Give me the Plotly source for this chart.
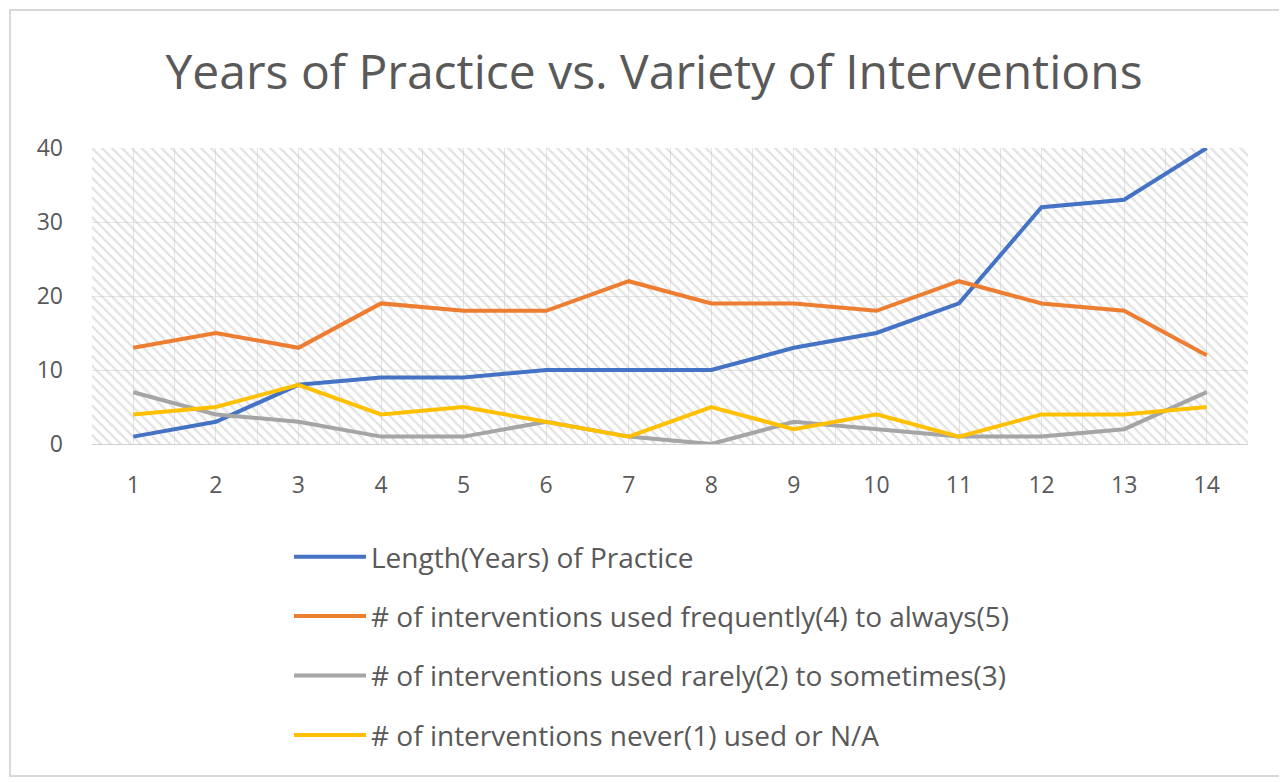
import plotly.graph_objects as go

# ---- data ----
participants = list(range(1, 15))
years_practice = [1, 3, 8, 9, 9, 10, 10, 10, 13, 15, 19, 32, 33, 40]
freq_to_always = [13, 15, 13, 19, 18, 18, 22, 19, 19, 18, 22, 19, 18, 12]
rarely_to_sometimes = [7, 4, 3, 1, 1, 3, 1, 0, 3, 2, 1, 1, 2, 7]
never_or_na = [4, 5, 8, 4, 5, 3, 1, 5, 2, 4, 1, 4, 4, 5]

series_names = [
    "Length(Years) of Practice",
    "# of interventions used frequently(4) to always(5)",
    "# of interventions used rarely(2) to sometimes(3)",
    "# of interventions never(1) used or N/A",
]
series_values = [years_practice, freq_to_always, rarely_to_sometimes, never_or_na]
series_colors = ["#4472C4", "#ED7D31", "#A5A5A5", "#FFC000"]

title_text = "Years of Practice vs. Variety of Interventions"
y_ticks = [0, 10, 20, 30, 40]

# ---- layout constants (page pixels; page body has an 8px margin) ----
OFF = 8
W, H = 1287 - OFF, 783 - OFF
PLOT_L, PLOT_R, PLOT_T, PLOT_B = 92, 1248, 148, 444
L = PLOT_L - OFF
R = W - (PLOT_R - OFF)
T = PLOT_T - OFF
B = H - (PLOT_B - OFF)
x_range = [0.5, 14.5]
y_range = [0, 40]
FONT = "Open Sans"
TEXT = "#595959"

fig = go.Figure()

# hatched plot-area background, spanning the axis ranges
fig.add_trace(go.Scatter(
    x=[x_range[0], x_range[1], x_range[1], x_range[0], x_range[0]],
    y=[y_range[0], y_range[0], y_range[1], y_range[1], y_range[0]],
    mode="lines", line=dict(width=0), fill="toself",
    fillcolor="rgba(0,0,0,0)",
    fillpattern=dict(shape="\\", size=7, solidity=0.32,
                     fgcolor="#c4c4c4", bgcolor="rgba(255,255,255,0)"),
    hoverinfo="skip", showlegend=False,
))

for name, vals, col in zip(series_names, series_values, series_colors):
    fig.add_trace(go.Scatter(
        x=participants, y=vals, name=name, mode="lines",
        line=dict(color=col, width=4), legendgroup=name,
    ))

plot_w = W - L - R
plot_h = H - T - B

def px_x(p):
    return (p - OFF - L) / plot_w

def px_y(p):
    return (H - B - (p - OFF)) / plot_h

fig.update_layout(
    width=W, height=H,
    margin=dict(l=L, r=R, t=T, b=B, autoexpand=False),
    paper_bgcolor="white", plot_bgcolor="white",
    font=dict(family=FONT, color=TEXT),
    title=dict(text=title_text, x=(654 - OFF) / W, xanchor="center",
               y=1 - (72 - OFF) / H, yanchor="middle", yref="container",
               font=dict(size=48, color=TEXT, family=FONT)),
    xaxis=dict(range=x_range, tickmode="array", tickvals=participants,
               showgrid=True, gridcolor="#e3e3e3", gridwidth=1,
               minor=dict(showgrid=True, gridcolor="#e3e3e3", tick0=0.5, dtick=1),
               showline=True, linecolor="#d0d0d0", linewidth=1,
               zeroline=False, ticks="", ticklabelstandoff=20,
               tickfont=dict(size=23, color=TEXT), fixedrange=True),
    yaxis=dict(range=y_range, tickmode="array", tickvals=y_ticks,
               showgrid=True, gridcolor="#e3e3e3", gridwidth=1,
               zeroline=False, showline=False, ticks="", ticklabelstandoff=28,
               tickfont=dict(size=23, color=TEXT), fixedrange=True),
    legend=dict(x=px_x(289), xanchor="left", y=px_y(532), yanchor="top",
                orientation="v", traceorder="grouped", tracegroupgap=20,
                itemwidth=72,
                font=dict(size=28, color=TEXT, family=FONT),
                bgcolor="rgba(0,0,0,0)"),
    shapes=[dict(type="rect", xref="paper", yref="paper",
                 x0=px_x(10), x1=px_x(1280), y0=px_y(776), y1=px_y(10),
                 line=dict(color="#d9d9d9", width=2), layer="below")],
    showlegend=True,
)

fig.write_html("out.html")
